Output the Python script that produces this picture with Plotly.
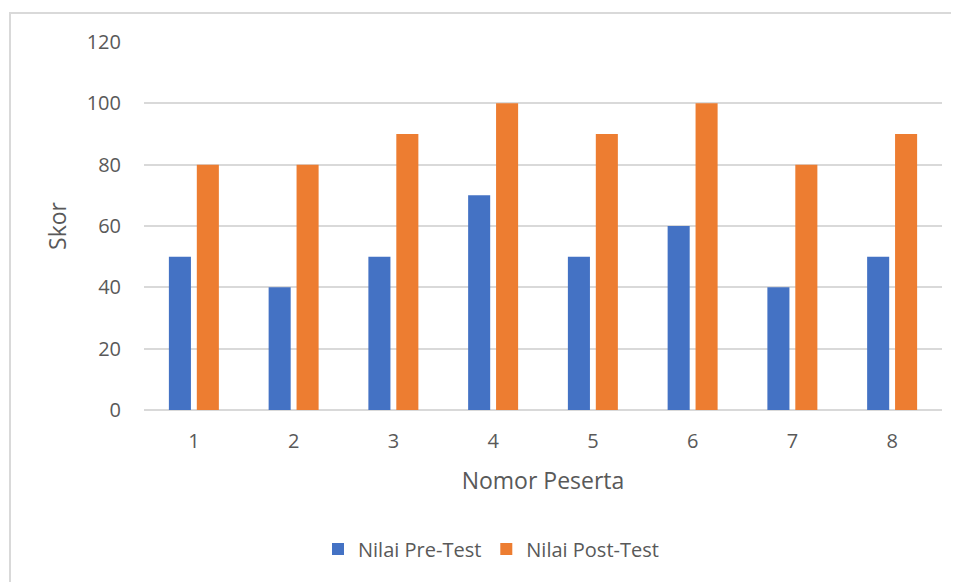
import plotly.graph_objects as go

categories = ["1", "2", "3", "4", "5", "6", "7", "8"]
pre_test = [50, 40, 50, 70, 50, 60, 40, 50]
post_test = [80, 80, 90, 100, 90, 100, 80, 90]
y_ticks = [0, 20, 40, 60, 80, 100, 120]

# page body has an 8px default margin; compensate so the picture lines up
OFF = 8
W, H = 959 - OFF, 582 - OFF
L, R, T, B = 144 - OFF, 17, 42 - OFF, 172
pw, ph = W - L - R, H - T - B

FONT = "Open Sans"
GRAY = "#595959"
GRID = "#D9D9D9"

fig = go.Figure()
fig.add_trace(go.Bar(x=categories, y=pre_test, name="Nilai Pre-Test",
                     marker=dict(color="#4472C4", line=dict(width=0))))
fig.add_trace(go.Bar(x=categories, y=post_test, name="Nilai Post-Test",
                     marker=dict(color="#ED7D31", line=dict(width=0))))

def px_x(x):
    return (x - OFF - L) / pw

def px_y(y):
    return (H - B - (y - OFF)) / ph

fig.add_shape(type="rect", xref="paper", yref="paper",
              x0=px_x(10), x1=px_x(975), y0=px_y(600), y1=px_y(13),
              line=dict(color=GRID, width=2), fillcolor="rgba(0,0,0,0)", layer="below")

fig.update_layout(
    width=W, height=H,
    margin=dict(l=L, r=R, t=T, b=B),
    paper_bgcolor="white", plot_bgcolor="white",
    font=dict(family=FONT, color=GRAY, size=20),
    barmode="group", bargap=0.44, bargroupgap=0.21,
    showlegend=True,
    legend=dict(orientation="h", x=px_x(491), xanchor="center",
                y=px_y(549), yanchor="middle",
                font=dict(family=FONT, size=20, color=GRAY),
                itemwidth=30, traceorder="normal", bgcolor="rgba(0,0,0,0)"),
    xaxis=dict(
        title=dict(text="Nomor Peserta", font=dict(family=FONT, size=23, color=GRAY), standoff=19),
        tickfont=dict(family=FONT, size=20, color=GRAY),
        showgrid=False, showline=False, zeroline=False,
        ticks="", ticklabelstandoff=17,
    ),
    yaxis=dict(
        title=dict(text="Skor", font=dict(family=FONT, size=23, color=GRAY), standoff=13),
        range=[0, 120], tickvals=y_ticks,
        tickfont=dict(family=FONT, size=20, color=GRAY),
        showgrid=True, gridcolor=GRID, gridwidth=2,
        zeroline=True, zerolinecolor=GRID, zerolinewidth=2,
        showline=False, ticks="", ticklabelstandoff=22,
    ),
)

fig.write_html("out.html")
